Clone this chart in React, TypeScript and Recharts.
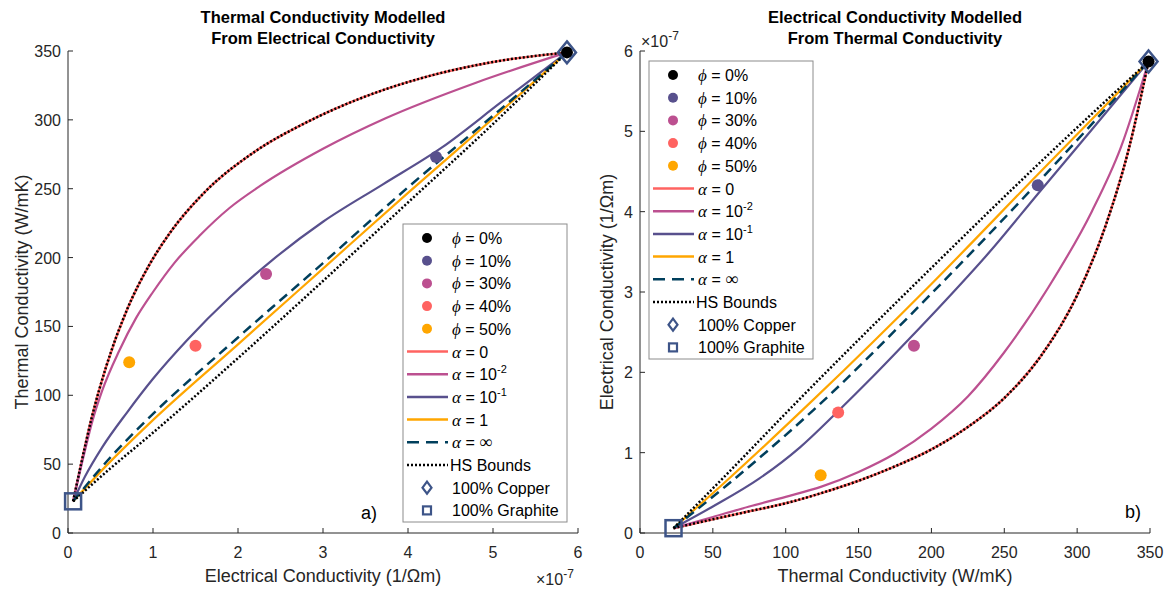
import React from 'react';
import { ComposedChart, Line, Scatter, XAxis, YAxis } from 'recharts';

const FONT = '"Liberation Sans", Arial, Helvetica, sans-serif';
const SERIF = '"Liberation Serif", "DejaVu Serif", serif';
const INK = '#262626';

const RED = '#ff6361';
const MAGENTA = '#bc5090';
const PURPLE = '#58508d';
const ORANGE = '#ffa600';
const TEAL = '#003f5c';
const MARK = '#3d5488';

// ticks
const elecTicks = [0, 1, 2, 3, 4, 5, 6];
const thermTicks = [0, 50, 100, 150, 200, 250, 300, 350];

// measured samples: electrical (x1e-7 1/Ohm m) and thermal (W/mK)
const phiLabels = ['0%', '10%', '30%', '40%', '50%'];
const phiColors = ['#000000', PURPLE, MAGENTA, RED, ORANGE];
const phiElec = [5.87, 4.33, 2.33, 1.5, 0.72];
const phiTherm = [349, 273, 188, 136, 124];

const copper = [5.87, 349];
const graphite = [0.06, 23];

// panel a) thermal modelled from electrical: [elec, therm]
const aAlpha0 = [[0.06, 23], [0.15, 49], [0.28, 84], [0.45, 121], [0.7, 163], [0.95, 194], [1.2, 218], [1.6, 247], [2.2, 277], [2.8, 298], [3.5, 317], [4.2, 331], [5.0, 342], [5.87, 349]];
const aAlpha2 = [[0.06, 23], [0.15, 47], [0.29, 82], [0.4, 103], [0.6, 132], [0.8, 156], [1.0, 175], [1.25, 196], [1.55, 216], [1.9, 236], [2.26, 252], [3.0, 279], [3.73, 301], [4.8, 327], [5.87, 349]];
const aAlpha1 = [[0.06, 23], [0.2, 41], [0.4, 62], [0.7, 88], [1.0, 112], [1.4, 140], [1.9, 171], [2.4, 198], [3.0, 226], [3.7, 253], [4.4, 280], [5.1, 313], [5.87, 349]];
const aAlphaOne = [[0.06, 23], [0.5, 52], [0.965, 80], [2, 137], [3, 192], [4, 247], [5, 301], [5.87, 349]];
const aAlphaInf = [[0.06, 23], [0.5, 55], [0.926, 82], [2, 142], [3, 196], [4, 251], [5, 303], [5.87, 349]];
const aHsUpper = aAlpha0;
const aHsLower = [[0.06, 23], [0.5, 47], [0.965, 71], [2, 127], [3, 183], [4, 240], [5, 297], [5.87, 349]];

// panel b) electrical modelled from thermal: [therm, elec]
const bAlpha0 = [[23, 0.06], [50, 0.17], [75, 0.27], [100, 0.37], [125, 0.5], [150, 0.65], [175, 0.83], [200, 1.04], [225, 1.32], [250, 1.68], [275, 2.2], [300, 2.96], [320, 3.85], [335, 4.75], [349, 5.87]];
const bAlpha2 = [[23, 0.06], [50, 0.2], [75, 0.33], [100, 0.45], [125, 0.58], [150, 0.76], [175, 0.99], [200, 1.3], [225, 1.7], [250, 2.25], [280, 3.05], [310, 4.0], [330, 4.8], [349, 5.87]];
const bAlpha1 = [[23, 0.06], [50, 0.33], [82, 0.68], [110, 1.07], [135, 1.5], [160, 1.95], [185, 2.42], [210, 2.9], [240, 3.5], [273, 4.22], [310, 5.02], [349, 5.87]];
const bAlphaOne = [[23, 0.06], [60, 0.66], [119, 1.66], [200, 3.1], [275, 4.5], [349, 5.87]];
const bAlphaInf = [[23, 0.06], [60, 0.6], [119, 1.53], [200, 2.98], [275, 4.4], [349, 5.87]];
const bHsUpper = [[23, 0.06], [60, 0.74], [107, 1.62], [200, 3.3], [275, 4.62], [349, 5.87]];
const bHsLower = bAlpha0;

const toPts = (arr: number[][]) => arr.map(([x, y]) => ({ x, y }));

const XTick = (props: any) => {
  const { x, y, payload } = props;
  return (
    <g>
      <line x1={x} x2={x} y1={y} y2={y - 5} stroke={INK} />
      <text x={x} y={y + 25} textAnchor="middle" fontSize={16} fill={INK} fontFamily={FONT}>
        {payload.value}
      </text>
    </g>
  );
};

const YTick = (props: any) => {
  const { x, y, payload } = props;
  return (
    <g>
      <line x1={x} x2={x + 5} y1={y} y2={y} stroke={INK} />
      <text x={x - 7} y={y + 6} textAnchor="end" fontSize={16} fill={INK} fontFamily={FONT}>
        {payload.value}
      </text>
    </g>
  );
};

const Dot = (color: string) => (p: any) => <circle cx={p.cx} cy={p.cy} r={6} fill={color} />;
const Diamond = (p: any) => (
  <polygon
    points={`${p.cx},${p.cy - 11} ${p.cx + 9},${p.cy} ${p.cx},${p.cy + 11} ${p.cx - 9},${p.cy}`}
    fill="none"
    stroke={MARK}
    strokeWidth={2.5}
  />
);
const Square = (p: any) => (
  <rect x={p.cx - 8} y={p.cy - 8} width={16} height={16} fill="none" stroke={MARK} strokeWidth={2.5} />
);

type Curve = { data: number[][]; color: string; width: number; dash?: string };

const Panel = ({ left, width, margin, xDomain, xTicks, yDomain, yTicks, curves, dots, cu, gr }: any) => (
  <div style={{ position: 'absolute', left, top: 0 }}>
    <ComposedChart width={width} height={589} margin={margin}>
      <XAxis
        type="number"
        dataKey="x"
        domain={xDomain}
        ticks={xTicks}
        interval={0}
        height={1}
        tickSize={0}
        tickMargin={0}
        tick={(p: any) => <XTick {...p} />}
        axisLine={{ stroke: INK }}
      />
      <YAxis
        type="number"
        dataKey="y"
        domain={yDomain}
        ticks={yTicks}
        interval={0}
        width={1}
        tickSize={0}
        tickMargin={0}
        tick={(p: any) => <YTick {...p} />}
        axisLine={{ stroke: INK }}
      />
      {curves.map((c: Curve, i: number) => (
        <Line
          key={i}
          data={toPts(c.data)}
          dataKey="y"
          type="monotone"
          stroke={c.color}
          strokeWidth={c.width}
          strokeDasharray={c.dash}
          dot={false}
          activeDot={false}
          isAnimationActive={false}
        />
      ))}
      {dots.map((d: number[], i: number) => (
        <Scatter
          key={'p' + i}
          data={[{ x: d[0], y: d[1] }]}
          dataKey="y"
          shape={Dot(phiColors[i])}
          isAnimationActive={false}
        />
      ))}
      <Scatter data={[{ x: cu[0], y: cu[1] }]} dataKey="y" shape={Diamond} isAnimationActive={false} />
      <Scatter data={[{ x: gr[0], y: gr[1] }]} dataKey="y" shape={Square} isAnimationActive={false} />
    </ComposedChart>
  </div>
);

const curvesA: Curve[] = [
  { data: aAlpha0, color: RED, width: 2.5 },
  { data: aAlpha2, color: MAGENTA, width: 2.2 },
  { data: aAlpha1, color: PURPLE, width: 2.2 },
  { data: aAlphaOne, color: ORANGE, width: 2.2 },
  { data: aAlphaInf, color: TEAL, width: 2.5, dash: '10 6' },
  { data: aHsUpper, color: '#000', width: 2.5, dash: '2 2' },
  { data: aHsLower, color: '#000', width: 2.5, dash: '2 2' },
];

const curvesB: Curve[] = [
  { data: bAlpha0, color: RED, width: 2.5 },
  { data: bAlpha2, color: MAGENTA, width: 2.2 },
  { data: bAlpha1, color: PURPLE, width: 2.2 },
  { data: bAlphaOne, color: ORANGE, width: 2.2 },
  { data: bAlphaInf, color: TEAL, width: 2.5, dash: '10 6' },
  { data: bHsUpper, color: '#000', width: 2.5, dash: '2 2' },
  { data: bHsLower, color: '#000', width: 2.5, dash: '2 2' },
];

const ROW = 22.7;

const LegendBox = ({ x, y }: { x: number; y: number }) => {
  const w = 164;
  const h = 298;
  const sx = x + 24;
  const tx = x + 49;
  const rowY = (i: number) => y + 14 + i * ROW;
  const lineRow = (i: number, color: string, dash?: string) => (
    <line x1={x + 4} x2={x + 45} y1={rowY(i)} y2={rowY(i)} stroke={color} strokeWidth={2.5} strokeDasharray={dash} />
  );
  const txt = { fontSize: 16, fontFamily: FONT, fill: '#000' } as any;
  const alphaRow = (i: number, rest: React.ReactNode) => (
    <text x={tx} y={rowY(i) + 6} {...txt}>
      <tspan fontFamily={SERIF} fontStyle="italic" fontSize={17}>α</tspan>
      {rest}
    </text>
  );
  return (
    <g>
      <rect x={x} y={y} width={w} height={h} fill="#fff" stroke="#8c8c8c" strokeWidth={1} />
      {phiLabels.map((l, i) => (
        <g key={l}>
          <circle cx={sx} cy={rowY(i)} r={5} fill={phiColors[i]} />
          <text x={tx} y={rowY(i) + 6} {...txt}>
            <tspan fontFamily={SERIF} fontStyle="italic" fontSize={17}>ϕ</tspan>
            <tspan> = {l}</tspan>
          </text>
        </g>
      ))}
      {lineRow(5, RED)}
      {alphaRow(5, <tspan> = 0</tspan>)}
      {lineRow(6, MAGENTA)}
      {alphaRow(6, <><tspan> = 10</tspan><tspan dy={-7} fontSize={11}>-2</tspan></>)}
      {lineRow(7, PURPLE)}
      {alphaRow(7, <><tspan> = 10</tspan><tspan dy={-7} fontSize={11}>-1</tspan></>)}
      {lineRow(8, ORANGE)}
      {alphaRow(8, <tspan> = 1</tspan>)}
      {lineRow(9, TEAL, '12 7')}
      {alphaRow(9, <><tspan> = </tspan><tspan fontFamily={SERIF} fontSize={18}>∞</tspan></>)}
      {lineRow(10, '#000', '2 2')}
      <text x={tx - 2} y={rowY(10) + 6} {...txt}>HS Bounds</text>
      <polygon
        points={`${sx},${rowY(11) - 6} ${sx + 4.5},${rowY(11)} ${sx},${rowY(11) + 6} ${sx - 4.5},${rowY(11)}`}
        fill="none"
        stroke={MARK}
        strokeWidth={2.2}
      />
      <text x={tx} y={rowY(11) + 6} {...txt}>100% Copper</text>
      <rect x={sx - 4} y={rowY(12) - 4} width={8} height={8} fill="none" stroke={MARK} strokeWidth={2.2} />
      <text x={tx} y={rowY(12) + 6} {...txt}>100% Graphite</text>
    </g>
  );
};

const Exp = ({ x, y }: { x: number; y: number }) => (
  <text x={x} y={y} fontSize={16} fontFamily={FONT} fill={INK}>
    ×10<tspan dy={-7} fontSize={12}>-7</tspan>
  </text>
);

export default function App() {
  const lab = { fontSize: 18, fontFamily: FONT, fill: INK, textAnchor: 'middle' } as any;
  const ttl = { fontSize: 16.5, fontFamily: FONT, fill: '#000', fontWeight: 'bold', textAnchor: 'middle' } as any;
  return (
    <div style={{ position: 'absolute', left: 0, top: 0, width: 1165, height: 589, background: '#fff', overflow: 'hidden' }}>
      <Panel
        left={0}
        width={600}
        margin={{ top: 51, left: 67, right: 22, bottom: 55 }}
        xDomain={[0, 6]}
        xTicks={elecTicks}
        yDomain={[0, 350]}
        yTicks={thermTicks}
        curves={curvesA}
        dots={phiElec.map((e, i) => [e, phiTherm[i]])}
        cu={copper}
        gr={graphite}
      />
      <Panel
        left={580}
        width={585}
        margin={{ top: 51, left: 59, right: 15, bottom: 55 }}
        xDomain={[0, 350]}
        xTicks={thermTicks}
        yDomain={[0, 6]}
        yTicks={elecTicks}
        curves={curvesB}
        dots={phiElec.map((e, i) => [phiTherm[i], e])}
        cu={[copper[1], copper[0]]}
        gr={[graphite[1], graphite[0]]}
      />
      <svg width={1165} height={589} style={{ position: 'absolute', left: 0, top: 0, pointerEvents: 'none' }}>
        <text x={323} y={23} {...ttl}>Thermal Conductivity Modelled</text>
        <text x={323} y={44} {...ttl}>From Electrical Conductivity</text>
        <text x={895} y={23} {...ttl}>Electrical Conductivity Modelled</text>
        <text x={895} y={44} {...ttl}>From Thermal Conductivity</text>

        <text x={323} y={582} {...lab}>Electrical Conductivity (1/Ωm)</text>
        <text x={895} y={582} {...lab}>Thermal Conductivity (W/mK)</text>
        <text x={0} y={0} {...lab} transform="translate(28,292) rotate(-90)">Thermal Conductivity (W/mK)</text>
        <text x={0} y={0} {...lab} transform="translate(613,292) rotate(-90)">Electrical Conductivity (1/Ωm)</text>

        <Exp x={536} y={585} />
        <Exp x={641} y={47} />

        <text x={361} y={519} fontSize={18} fontFamily={FONT} fill="#000">a)</text>
        <text x={1125} y={518} fontSize={18} fontFamily={FONT} fill="#000">b)</text>

        <LegendBox x={403} y={224} />
        <LegendBox x={649} y={61} />
      </svg>
    </div>
  );
}
